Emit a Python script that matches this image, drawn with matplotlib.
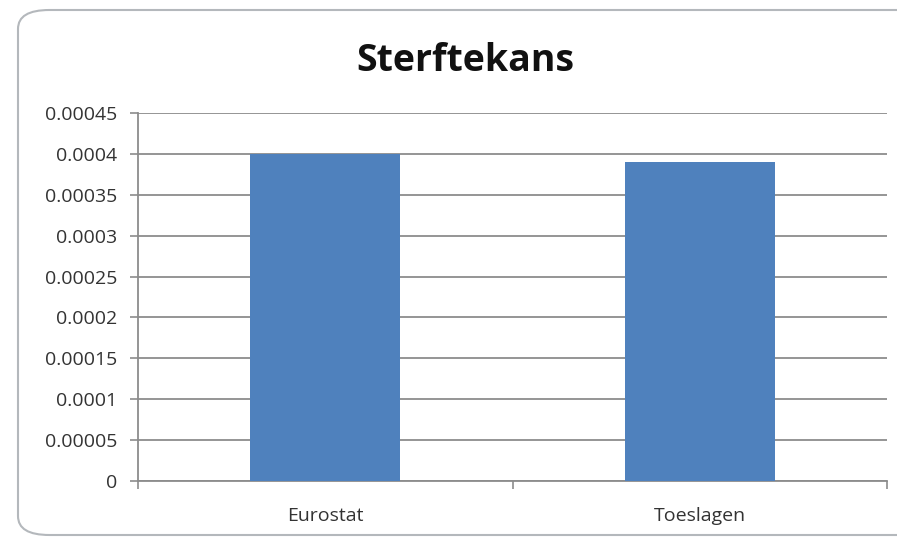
import matplotlib
matplotlib.use("Agg")
import matplotlib.pyplot as plt
from matplotlib.patches import FancyBboxPatch
from matplotlib.ticker import FixedLocator

categories = ["Eurostat", "Toeslagen"]
values = [0.0004, 0.00039]
yticks = [0, 0.00005, 0.0001, 0.00015, 0.0002, 0.00025, 0.0003, 0.00035, 0.0004, 0.00045]
ytick_labels = ["0", "0.00005", "0.0001", "0.00015", "0.0002", "0.00025", "0.0003", "0.00035", "0.0004", "0.00045"]
title = "Sterftekans"

plt.rcParams['font.family'] = ['Open Sans', 'DejaVu Sans']

fig = plt.figure(figsize=(8.97, 5.40), dpi=100)
fig.patch.set_facecolor("white")

border = FancyBboxPatch((18/897, 5/540), 1.05, 525/540,
                        boxstyle="round,pad=0,rounding_size=0.035",
                        transform=fig.transFigure, facecolor="white",
                        edgecolor="#b4b8bc", linewidth=1.5, zorder=-5)
fig.patches.append(border)

ax = fig.add_axes([138/897, 1 - 481/540, (887 - 138)/897, (481 - 113)/540])
ax.set_zorder(2)
ax.set_facecolor("none")
gray = "#8c8c8c"
x = list(range(len(categories)))
ax.bar(x, values, width=0.4, color="#4F81BD", zorder=3)
ax.set_xlim(-0.5, len(categories) - 0.5)
ax.set_ylim(0, 0.00045)
ax.set_yticks(yticks)
ax.set_yticklabels(ytick_labels, fontsize=14, color="#333333")
ax.set_xticks(x)
ax.set_xticklabels(categories, fontsize=14, color="#333333")
ax.tick_params(axis="x", which="major", length=0, pad=19)
ax.xaxis.set_minor_locator(FixedLocator([-0.5, 0.5, 1.5]))
ax.tick_params(axis="x", which="minor", length=6, color=gray, width=1.2, direction="out")
ax.tick_params(axis="y", length=6, color=gray, width=1.2, direction="out", pad=9)
ax.yaxis.grid(True, color=gray, linewidth=1.3, zorder=0)
ax.set_axisbelow(True)
for s in ["top", "right"]:
    ax.spines[s].set_visible(False)
for s in ["left", "bottom"]:
    ax.spines[s].set_color(gray)
    ax.spines[s].set_linewidth(1.3)

fig.text(465/897, 1 - 61/540, title, ha="center", va="center",
         fontsize=27, fontweight="bold", color="#111111")

fig.savefig("out.png", dpi=100)
